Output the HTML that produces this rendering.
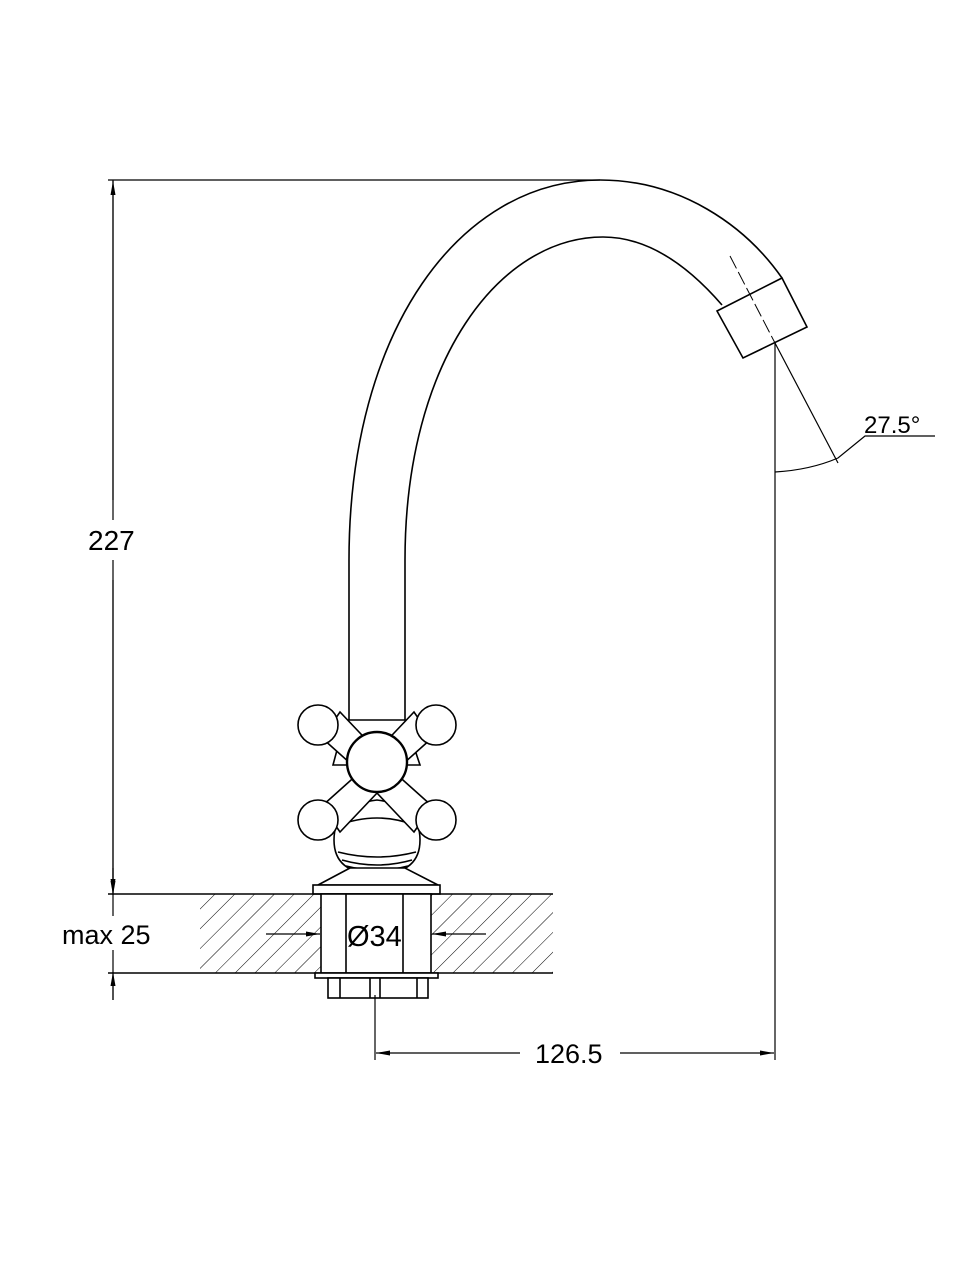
<!DOCTYPE html>
<html><head><meta charset="utf-8"><style>body{margin:0;background:#fff}svg{display:block}</style></head>
<body>
<svg width="960" height="1280" viewBox="0 0 960 1280" xmlns="http://www.w3.org/2000/svg" font-family="Liberation Sans, sans-serif">
<defs>
<pattern id="h" width="14" height="14" patternUnits="userSpaceOnUse" patternTransform="rotate(45)">
<line x1="0" y1="0" x2="0" y2="14" stroke="#000" stroke-width="1"/></pattern>
<marker id="a" markerWidth="14" markerHeight="6" refX="14" refY="3" orient="auto" markerUnits="userSpaceOnUse"><path d="M0,0.5 L14,3 L0,5.5 Z" fill="#000"/></marker>
</defs>
<g fill="none" stroke="#000" stroke-width="1.6">
<path d="M349,722 L349,560 C349,330 460,180 600,180 C680,180 745,225 782,278"/>
<path d="M405,722 L405,560 C405,360 500,237 603,237 C650,237 690,268 722,305"/>
<path d="M717,311 L782,278 L807,327 L743,358 Z"/>
</g>
<line x1="730" y1="256" x2="775" y2="343" stroke="#000" stroke-width="1" stroke-dasharray="14,4"/>
<g stroke="#000" stroke-width="1.2" fill="none">
<line x1="775" y1="343" x2="838" y2="463"/>
<line x1="775" y1="343" x2="775" y2="1060"/>
<path d="M775,472 Q810,470 838,458 L865,436 L935,436"/>
</g>
<text x="864" y="433" font-size="24">27.5°</text>
<!-- handles -->
<g fill="#fff" stroke="#000" stroke-width="1.6">
<path d="M345,720 L405,720 L420,765 L333,765 Z"/>
<path d="M322,738 L340,712 L378,752 L360,772 Z"/>
<path d="M432,738 L414,712 L376,752 L394,772 Z"/>
<circle cx="318" cy="725" r="20"/><circle cx="436" cy="725" r="20"/>
<path d="M377,800 Q420,805 420,840 Q420,874 377,874 Q334,874 334,840 Q334,805 377,800 Z"/>
<path d="M337,826 Q377,810 417,826" fill="none"/>
<path d="M338,852 Q377,862 416,852" fill="none"/>
<path d="M342,860 Q377,870 412,860" fill="none"/>
<path d="M346,866 Q377,874 408,866" fill="none"/>
<path d="M322,806 L340,832 L378,792 L360,772 Z"/>
<path d="M432,806 L414,832 L376,792 L394,772 Z"/>
<circle cx="318" cy="820" r="20"/><circle cx="436" cy="820" r="20"/>
<circle cx="377" cy="762" r="30" stroke-width="2.4"/>
<path d="M350,868 L318,885 L438,885 L405,868 Z"/>
<rect x="313" y="885" width="127" height="9"/>
</g>
<rect x="200" y="894" width="353" height="79" fill="url(#h)"/>
<line x1="108" y1="894" x2="553" y2="894" stroke="#000" stroke-width="1.4"/>
<line x1="108" y1="973" x2="553" y2="973" stroke="#000" stroke-width="1.4"/>
<g fill="#fff" stroke="#000" stroke-width="1.6">
<rect x="321" y="894" width="110" height="79"/>
<line x1="346" y1="894" x2="346" y2="973"/><line x1="403" y1="894" x2="403" y2="973"/>
<rect x="315" y="973" width="123" height="5"/>
<rect x="328" y="978" width="100" height="20"/>
<line x1="340" y1="978" x2="340" y2="998"/><line x1="370" y1="978" x2="370" y2="998"/><line x1="380" y1="978" x2="380" y2="998"/><line x1="417" y1="978" x2="417" y2="998"/>
</g>
<text x="347" y="946" font-size="29">Ø34</text>
<g stroke="#000" stroke-width="1.2" fill="none">
<line x1="266" y1="934" x2="320" y2="934" marker-end="url(#a)"/>
<line x1="486" y1="934" x2="432" y2="934" marker-end="url(#a)"/>
<line x1="108" y1="180" x2="600" y2="180"/>
<line x1="113" y1="180" x2="113" y2="1000"/>
<line x1="113" y1="500" x2="113" y2="181" marker-end="url(#a)"/>
<line x1="113" y1="580" x2="113" y2="893" marker-end="url(#a)"/>
<line x1="113" y1="868" x2="113" y2="895" marker-end="url(#a)"/>
<line x1="113" y1="1000" x2="113" y2="972" marker-end="url(#a)"/>
<line x1="375" y1="995" x2="375" y2="1060"/>
<line x1="520" y1="1053" x2="376" y2="1053" marker-end="url(#a)"/>
<line x1="620" y1="1053" x2="774" y2="1053" marker-end="url(#a)"/>
</g>
<rect x="86" y="520" width="78" height="40" fill="#fff"/>
<text x="88" y="550" font-size="28">227</text>
<rect x="60" y="916" width="110" height="34" fill="#fff"/>
<text x="62" y="944" font-size="27">max 25</text>
<rect x="530" y="1038" width="88" height="30" fill="#fff"/>
<text x="535" y="1063" font-size="27">126.5</text>
</svg>
</body></html>
